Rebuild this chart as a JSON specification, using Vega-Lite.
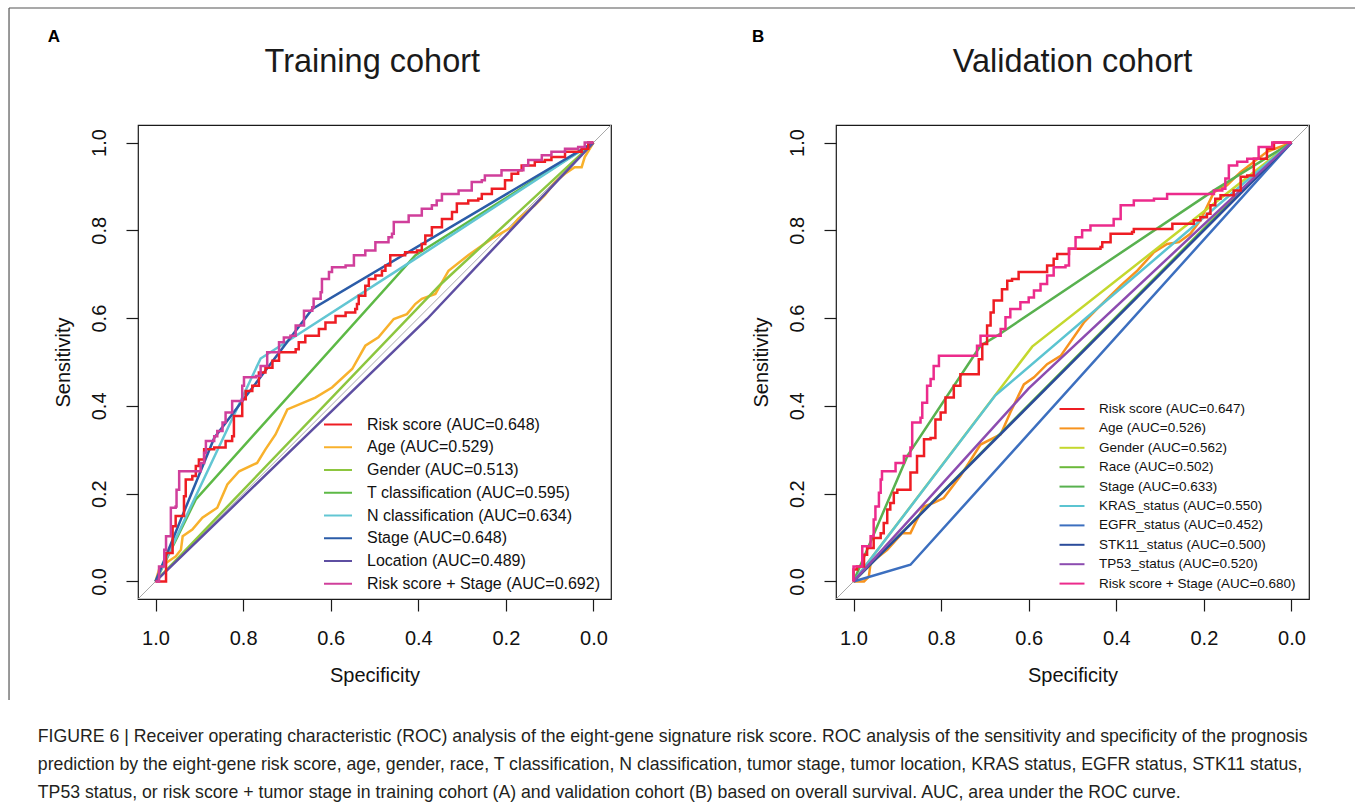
{
  "$schema": "https://vega.github.io/schema/vega-lite/v6.json",
  "background": "white",
  "padding": {"left": 7, "top": 6, "right": 0, "bottom": 5},
  "autosize": {"type": "pad"},
  "bounds": "flush",
  "spacing": 225,
  "title": {
    "text": [
      "FIGURE 6 | Receiver operating characteristic (ROC) analysis of the eight-gene signature risk score. ROC analysis of the sensitivity and specificity of the prognosis",
      "prediction by the eight-gene risk score, age, gender, race, T classification, N classification, tumor stage, tumor location, KRAS status, EGFR status, STK11 status,",
      "TP53 status, or risk score + tumor stage in training cohort (A) and validation cohort (B) based on overall survival. AUC, area under the ROC curve."
    ],
    "orient": "bottom", "anchor": "start", "frame": "bounds",
    "font": "Liberation Sans", "fontSize": 17.7, "fontWeight": "normal", "color": "#231F20",
    "lineHeight": 28, "offset": 27, "dx": 30
  },
  "resolve": {"scale": {"color": "independent", "x": "independent", "y": "independent"}, "legend": {"color": "independent"}},
  "config": {
    "font": "Liberation Sans",
    "view": {"stroke": "#1a1a1a", "strokeWidth": 1.2},
    "axis": {"grid": false, "domain": false, "tickColor": "#1a1a1a", "tickSize": 12, "tickWidth": 1.2,
      "labelFontSize": 20, "titleFontSize": 20, "labelColor": "#111", "titleColor": "#111",
      "titleFontWeight": "normal", "labelFont": "Liberation Sans", "titleFont": "Liberation Sans",
      "labelFlush": false, "labelOverlap": false},
    "axisX": {"labelPadding": 17, "titlePadding": 17},
    "axisY": {"labelAngle": -90, "labelPadding": 17, "titlePadding": 15.5},
    "legend": {"labelFont": "Liberation Sans", "labelColor": "#111"}
  },
  "datasets": {
    "a": [
      {"curve":"Age (AUC=0.529)","n":0,"spec":1,"sens":0},
      {"curve":"Age (AUC=0.529)","n":1,"spec":0.992,"sens":0.027},
      {"curve":"Age (AUC=0.529)","n":2,"spec":0.976,"sens":0.042},
      {"curve":"Age (AUC=0.529)","n":3,"spec":0.954,"sens":0.057},
      {"curve":"Age (AUC=0.529)","n":4,"spec":0.942,"sens":0.072},
      {"curve":"Age (AUC=0.529)","n":5,"spec":0.938,"sens":0.103},
      {"curve":"Age (AUC=0.529)","n":6,"spec":0.916,"sens":0.118},
      {"curve":"Age (AUC=0.529)","n":7,"spec":0.893,"sens":0.145},
      {"curve":"Age (AUC=0.529)","n":8,"spec":0.859,"sens":0.168},
      {"curve":"Age (AUC=0.529)","n":9,"spec":0.836,"sens":0.221},
      {"curve":"Age (AUC=0.529)","n":10,"spec":0.809,"sens":0.251},
      {"curve":"Age (AUC=0.529)","n":11,"spec":0.768,"sens":0.270},
      {"curve":"Age (AUC=0.529)","n":12,"spec":0.749,"sens":0.301},
      {"curve":"Age (AUC=0.529)","n":13,"spec":0.726,"sens":0.335},
      {"curve":"Age (AUC=0.529)","n":14,"spec":0.699,"sens":0.392},
      {"curve":"Age (AUC=0.529)","n":15,"spec":0.635,"sens":0.419},
      {"curve":"Age (AUC=0.529)","n":16,"spec":0.597,"sens":0.442},
      {"curve":"Age (AUC=0.529)","n":17,"spec":0.551,"sens":0.484},
      {"curve":"Age (AUC=0.529)","n":18,"spec":0.521,"sens":0.537},
      {"curve":"Age (AUC=0.529)","n":19,"spec":0.491,"sens":0.556},
      {"curve":"Age (AUC=0.529)","n":20,"spec":0.456,"sens":0.598},
      {"curve":"Age (AUC=0.529)","n":21,"spec":0.426,"sens":0.609},
      {"curve":"Age (AUC=0.529)","n":22,"spec":0.407,"sens":0.632},
      {"curve":"Age (AUC=0.529)","n":23,"spec":0.392,"sens":0.644},
      {"curve":"Age (AUC=0.529)","n":24,"spec":0.361,"sens":0.655},
      {"curve":"Age (AUC=0.529)","n":25,"spec":0.331,"sens":0.708},
      {"curve":"Age (AUC=0.529)","n":26,"spec":0.286,"sens":0.743},
      {"curve":"Age (AUC=0.529)","n":27,"spec":0.232,"sens":0.781},
      {"curve":"Age (AUC=0.529)","n":28,"spec":0.187,"sens":0.807},
      {"curve":"Age (AUC=0.529)","n":29,"spec":0.172,"sens":0.826},
      {"curve":"Age (AUC=0.529)","n":30,"spec":0.134,"sens":0.857},
      {"curve":"Age (AUC=0.529)","n":31,"spec":0.111,"sens":0.880},
      {"curve":"Age (AUC=0.529)","n":32,"spec":0.088,"sens":0.910},
      {"curve":"Age (AUC=0.529)","n":33,"spec":0.065,"sens":0.929},
      {"curve":"Age (AUC=0.529)","n":34,"spec":0.043,"sens":0.944},
      {"curve":"Age (AUC=0.529)","n":35,"spec":0.027,"sens":0.944},
      {"curve":"Age (AUC=0.529)","n":36,"spec":0.020,"sens":0.967},
      {"curve":"Age (AUC=0.529)","n":37,"spec":0,"sens":1},
      {"curve":"Gender (AUC=0.513)","n":0,"spec":1,"sens":0},
      {"curve":"Gender (AUC=0.513)","n":1,"spec":0.35,"sens":0.676},
      {"curve":"Gender (AUC=0.513)","n":2,"spec":0,"sens":1},
      {"curve":"T classification (AUC=0.595)","n":0,"spec":1,"sens":0},
      {"curve":"T classification (AUC=0.595)","n":1,"spec":0.908,"sens":0.187},
      {"curve":"T classification (AUC=0.595)","n":2,"spec":0.407,"sens":0.743},
      {"curve":"T classification (AUC=0.595)","n":3,"spec":0,"sens":1},
      {"curve":"N classification (AUC=0.634)","n":0,"spec":1,"sens":0},
      {"curve":"N classification (AUC=0.634)","n":1,"spec":0.760,"sens":0.508},
      {"curve":"N classification (AUC=0.634)","n":2,"spec":0.407,"sens":0.735},
      {"curve":"N classification (AUC=0.634)","n":3,"spec":0,"sens":1},
      {"curve":"Stage (AUC=0.648)","n":0,"spec":1,"sens":0},
      {"curve":"Stage (AUC=0.648)","n":1,"spec":0.866,"sens":0.327},
      {"curve":"Stage (AUC=0.648)","n":2,"spec":0.642,"sens":0.621},
      {"curve":"Stage (AUC=0.648)","n":3,"spec":0,"sens":1},
      {"curve":"Location (AUC=0.489)","n":0,"spec":1,"sens":0},
      {"curve":"Location (AUC=0.489)","n":1,"spec":0.38,"sens":0.598},
      {"curve":"Location (AUC=0.489)","n":2,"spec":0,"sens":1},
      {"curve":"Risk score (AUC=0.648)","n":0,"spec":1,"sens":0},
      {"curve":"Risk score (AUC=0.648)","n":1,"spec":0.976,"sens":0.065},
      {"curve":"Risk score (AUC=0.648)","n":2,"spec":0.961,"sens":0.126},
      {"curve":"Risk score (AUC=0.648)","n":3,"spec":0.954,"sens":0.149},
      {"curve":"Risk score (AUC=0.648)","n":4,"spec":0.938,"sens":0.149},
      {"curve":"Risk score (AUC=0.648)","n":5,"spec":0.935,"sens":0.194},
      {"curve":"Risk score (AUC=0.648)","n":6,"spec":0.931,"sens":0.232},
      {"curve":"Risk score (AUC=0.648)","n":7,"spec":0.916,"sens":0.240},
      {"curve":"Risk score (AUC=0.648)","n":8,"spec":0.908,"sens":0.263},
      {"curve":"Risk score (AUC=0.648)","n":9,"spec":0.901,"sens":0.278},
      {"curve":"Risk score (AUC=0.648)","n":10,"spec":0.889,"sens":0.301},
      {"curve":"Risk score (AUC=0.648)","n":11,"spec":0.866,"sens":0.305},
      {"curve":"Risk score (AUC=0.648)","n":12,"spec":0.840,"sens":0.320},
      {"curve":"Risk score (AUC=0.648)","n":13,"spec":0.825,"sens":0.331},
      {"curve":"Risk score (AUC=0.648)","n":14,"spec":0.821,"sens":0.377},
      {"curve":"Risk score (AUC=0.648)","n":15,"spec":0.802,"sens":0.415},
      {"curve":"Risk score (AUC=0.648)","n":16,"spec":0.794,"sens":0.434},
      {"curve":"Risk score (AUC=0.648)","n":17,"spec":0.779,"sens":0.446},
      {"curve":"Risk score (AUC=0.648)","n":18,"spec":0.764,"sens":0.476},
      {"curve":"Risk score (AUC=0.648)","n":19,"spec":0.749,"sens":0.487},
      {"curve":"Risk score (AUC=0.648)","n":20,"spec":0.733,"sens":0.503},
      {"curve":"Risk score (AUC=0.648)","n":21,"spec":0.718,"sens":0.522},
      {"curve":"Risk score (AUC=0.648)","n":22,"spec":0.684,"sens":0.522},
      {"curve":"Risk score (AUC=0.648)","n":23,"spec":0.680,"sens":0.529},
      {"curve":"Risk score (AUC=0.648)","n":24,"spec":0.673,"sens":0.545},
      {"curve":"Risk score (AUC=0.648)","n":25,"spec":0.658,"sens":0.560},
      {"curve":"Risk score (AUC=0.648)","n":26,"spec":0.627,"sens":0.575},
      {"curve":"Risk score (AUC=0.648)","n":27,"spec":0.612,"sens":0.590},
      {"curve":"Risk score (AUC=0.648)","n":28,"spec":0.589,"sens":0.605},
      {"curve":"Risk score (AUC=0.648)","n":29,"spec":0.566,"sens":0.613},
      {"curve":"Risk score (AUC=0.648)","n":30,"spec":0.544,"sens":0.621},
      {"curve":"Risk score (AUC=0.648)","n":31,"spec":0.540,"sens":0.632},
      {"curve":"Risk score (AUC=0.648)","n":32,"spec":0.536,"sens":0.651},
      {"curve":"Risk score (AUC=0.648)","n":33,"spec":0.521,"sens":0.674},
      {"curve":"Risk score (AUC=0.648)","n":34,"spec":0.513,"sens":0.689},
      {"curve":"Risk score (AUC=0.648)","n":35,"spec":0.498,"sens":0.697},
      {"curve":"Risk score (AUC=0.648)","n":36,"spec":0.483,"sens":0.708},
      {"curve":"Risk score (AUC=0.648)","n":37,"spec":0.475,"sens":0.720},
      {"curve":"Risk score (AUC=0.648)","n":38,"spec":0.464,"sens":0.743},
      {"curve":"Risk score (AUC=0.648)","n":39,"spec":0.430,"sens":0.750},
      {"curve":"Risk score (AUC=0.648)","n":40,"spec":0.403,"sens":0.754},
      {"curve":"Risk score (AUC=0.648)","n":41,"spec":0.392,"sens":0.769},
      {"curve":"Risk score (AUC=0.648)","n":42,"spec":0.384,"sens":0.788},
      {"curve":"Risk score (AUC=0.648)","n":43,"spec":0.369,"sens":0.807},
      {"curve":"Risk score (AUC=0.648)","n":44,"spec":0.346,"sens":0.826},
      {"curve":"Risk score (AUC=0.648)","n":45,"spec":0.323,"sens":0.842},
      {"curve":"Risk score (AUC=0.648)","n":46,"spec":0.312,"sens":0.861},
      {"curve":"Risk score (AUC=0.648)","n":47,"spec":0.293,"sens":0.861},
      {"curve":"Risk score (AUC=0.648)","n":48,"spec":0.286,"sens":0.868},
      {"curve":"Risk score (AUC=0.648)","n":49,"spec":0.263,"sens":0.872},
      {"curve":"Risk score (AUC=0.648)","n":50,"spec":0.255,"sens":0.883},
      {"curve":"Risk score (AUC=0.648)","n":51,"spec":0.232,"sens":0.895},
      {"curve":"Risk score (AUC=0.648)","n":52,"spec":0.217,"sens":0.895},
      {"curve":"Risk score (AUC=0.648)","n":53,"spec":0.202,"sens":0.914},
      {"curve":"Risk score (AUC=0.648)","n":54,"spec":0.187,"sens":0.929},
      {"curve":"Risk score (AUC=0.648)","n":55,"spec":0.172,"sens":0.937},
      {"curve":"Risk score (AUC=0.648)","n":56,"spec":0.164,"sens":0.948},
      {"curve":"Risk score (AUC=0.648)","n":57,"spec":0.134,"sens":0.956},
      {"curve":"Risk score (AUC=0.648)","n":58,"spec":0.111,"sens":0.960},
      {"curve":"Risk score (AUC=0.648)","n":59,"spec":0.096,"sens":0.967},
      {"curve":"Risk score (AUC=0.648)","n":60,"spec":0.065,"sens":0.979},
      {"curve":"Risk score (AUC=0.648)","n":61,"spec":0.039,"sens":0.979},
      {"curve":"Risk score (AUC=0.648)","n":62,"spec":0.027,"sens":0.986},
      {"curve":"Risk score (AUC=0.648)","n":63,"spec":0.012,"sens":1},
      {"curve":"Risk score (AUC=0.648)","n":64,"spec":0,"sens":1},
      {"curve":"Risk score + Stage (AUC=0.692)","n":0,"spec":1,"sens":0},
      {"curve":"Risk score + Stage (AUC=0.692)","n":1,"spec":0.992,"sens":0.034},
      {"curve":"Risk score + Stage (AUC=0.692)","n":2,"spec":0.980,"sens":0.072},
      {"curve":"Risk score + Stage (AUC=0.692)","n":3,"spec":0.976,"sens":0.103},
      {"curve":"Risk score + Stage (AUC=0.692)","n":4,"spec":0.965,"sens":0.141},
      {"curve":"Risk score + Stage (AUC=0.692)","n":5,"spec":0.965,"sens":0.168},
      {"curve":"Risk score + Stage (AUC=0.692)","n":6,"spec":0.954,"sens":0.171},
      {"curve":"Risk score + Stage (AUC=0.692)","n":7,"spec":0.952,"sens":0.209},
      {"curve":"Risk score + Stage (AUC=0.692)","n":8,"spec":0.946,"sens":0.251},
      {"curve":"Risk score + Stage (AUC=0.692)","n":9,"spec":0.901,"sens":0.251},
      {"curve":"Risk score + Stage (AUC=0.692)","n":10,"spec":0.897,"sens":0.270},
      {"curve":"Risk score + Stage (AUC=0.692)","n":11,"spec":0.889,"sens":0.293},
      {"curve":"Risk score + Stage (AUC=0.692)","n":12,"spec":0.885,"sens":0.320},
      {"curve":"Risk score + Stage (AUC=0.692)","n":13,"spec":0.866,"sens":0.331},
      {"curve":"Risk score + Stage (AUC=0.692)","n":14,"spec":0.859,"sens":0.343},
      {"curve":"Risk score + Stage (AUC=0.692)","n":15,"spec":0.847,"sens":0.362},
      {"curve":"Risk score + Stage (AUC=0.692)","n":16,"spec":0.840,"sens":0.385},
      {"curve":"Risk score + Stage (AUC=0.692)","n":17,"spec":0.825,"sens":0.411},
      {"curve":"Risk score + Stage (AUC=0.692)","n":18,"spec":0.817,"sens":0.411},
      {"curve":"Risk score + Stage (AUC=0.692)","n":19,"spec":0.802,"sens":0.446},
      {"curve":"Risk score + Stage (AUC=0.692)","n":20,"spec":0.798,"sens":0.465},
      {"curve":"Risk score + Stage (AUC=0.692)","n":21,"spec":0.771,"sens":0.468},
      {"curve":"Risk score + Stage (AUC=0.692)","n":22,"spec":0.760,"sens":0.491},
      {"curve":"Risk score + Stage (AUC=0.692)","n":23,"spec":0.745,"sens":0.522},
      {"curve":"Risk score + Stage (AUC=0.692)","n":24,"spec":0.718,"sens":0.545},
      {"curve":"Risk score + Stage (AUC=0.692)","n":25,"spec":0.707,"sens":0.556},
      {"curve":"Risk score + Stage (AUC=0.692)","n":26,"spec":0.692,"sens":0.560},
      {"curve":"Risk score + Stage (AUC=0.692)","n":27,"spec":0.680,"sens":0.583},
      {"curve":"Risk score + Stage (AUC=0.692)","n":28,"spec":0.661,"sens":0.617},
      {"curve":"Risk score + Stage (AUC=0.692)","n":29,"spec":0.642,"sens":0.625},
      {"curve":"Risk score + Stage (AUC=0.692)","n":30,"spec":0.639,"sens":0.644},
      {"curve":"Risk score + Stage (AUC=0.692)","n":31,"spec":0.623,"sens":0.659},
      {"curve":"Risk score + Stage (AUC=0.692)","n":32,"spec":0.620,"sens":0.689},
      {"curve":"Risk score + Stage (AUC=0.692)","n":33,"spec":0.604,"sens":0.705},
      {"curve":"Risk score + Stage (AUC=0.692)","n":34,"spec":0.597,"sens":0.716},
      {"curve":"Risk score + Stage (AUC=0.692)","n":35,"spec":0.566,"sens":0.720},
      {"curve":"Risk score + Stage (AUC=0.692)","n":36,"spec":0.547,"sens":0.743},
      {"curve":"Risk score + Stage (AUC=0.692)","n":37,"spec":0.521,"sens":0.754},
      {"curve":"Risk score + Stage (AUC=0.692)","n":38,"spec":0.498,"sens":0.773},
      {"curve":"Risk score + Stage (AUC=0.692)","n":39,"spec":0.468,"sens":0.784},
      {"curve":"Risk score + Stage (AUC=0.692)","n":40,"spec":0.460,"sens":0.792},
      {"curve":"Risk score + Stage (AUC=0.692)","n":41,"spec":0.456,"sens":0.819},
      {"curve":"Risk score + Stage (AUC=0.692)","n":42,"spec":0.422,"sens":0.834},
      {"curve":"Risk score + Stage (AUC=0.692)","n":43,"spec":0.392,"sens":0.849},
      {"curve":"Risk score + Stage (AUC=0.692)","n":44,"spec":0.369,"sens":0.857},
      {"curve":"Risk score + Stage (AUC=0.692)","n":45,"spec":0.358,"sens":0.868},
      {"curve":"Risk score + Stage (AUC=0.692)","n":46,"spec":0.346,"sens":0.883},
      {"curve":"Risk score + Stage (AUC=0.692)","n":47,"spec":0.308,"sens":0.891},
      {"curve":"Risk score + Stage (AUC=0.692)","n":48,"spec":0.278,"sens":0.910},
      {"curve":"Risk score + Stage (AUC=0.692)","n":49,"spec":0.255,"sens":0.914},
      {"curve":"Risk score + Stage (AUC=0.692)","n":50,"spec":0.248,"sens":0.925},
      {"curve":"Risk score + Stage (AUC=0.692)","n":51,"spec":0.210,"sens":0.937},
      {"curve":"Risk score + Stage (AUC=0.692)","n":52,"spec":0.179,"sens":0.937},
      {"curve":"Risk score + Stage (AUC=0.692)","n":53,"spec":0.160,"sens":0.948},
      {"curve":"Risk score + Stage (AUC=0.692)","n":54,"spec":0.149,"sens":0.960},
      {"curve":"Risk score + Stage (AUC=0.692)","n":55,"spec":0.118,"sens":0.971},
      {"curve":"Risk score + Stage (AUC=0.692)","n":56,"spec":0.096,"sens":0.979},
      {"curve":"Risk score + Stage (AUC=0.692)","n":57,"spec":0.065,"sens":0.986},
      {"curve":"Risk score + Stage (AUC=0.692)","n":58,"spec":0.035,"sens":0.990},
      {"curve":"Risk score + Stage (AUC=0.692)","n":59,"spec":0.020,"sens":1},
      {"curve":"Risk score + Stage (AUC=0.692)","n":60,"spec":0,"sens":1}
    ],
    "b": [
      {"curve":"Age (AUC=0.526)","n":0,"spec":1,"sens":0},
      {"curve":"Age (AUC=0.526)","n":1,"spec":0.976,"sens":0},
      {"curve":"Age (AUC=0.526)","n":2,"spec":0.965,"sens":0.011},
      {"curve":"Age (AUC=0.526)","n":3,"spec":0.961,"sens":0.042},
      {"curve":"Age (AUC=0.526)","n":4,"spec":0.923,"sens":0.072},
      {"curve":"Age (AUC=0.526)","n":5,"spec":0.889,"sens":0.110},
      {"curve":"Age (AUC=0.526)","n":6,"spec":0.870,"sens":0.110},
      {"curve":"Age (AUC=0.526)","n":7,"spec":0.855,"sens":0.141},
      {"curve":"Age (AUC=0.526)","n":8,"spec":0.839,"sens":0.171},
      {"curve":"Age (AUC=0.526)","n":9,"spec":0.817,"sens":0.179},
      {"curve":"Age (AUC=0.526)","n":10,"spec":0.794,"sens":0.190},
      {"curve":"Age (AUC=0.526)","n":11,"spec":0.756,"sens":0.240},
      {"curve":"Age (AUC=0.526)","n":12,"spec":0.710,"sens":0.312},
      {"curve":"Age (AUC=0.526)","n":13,"spec":0.664,"sens":0.335},
      {"curve":"Age (AUC=0.526)","n":14,"spec":0.642,"sens":0.385},
      {"curve":"Age (AUC=0.526)","n":15,"spec":0.611,"sens":0.449},
      {"curve":"Age (AUC=0.526)","n":16,"spec":0.588,"sens":0.465},
      {"curve":"Age (AUC=0.526)","n":17,"spec":0.558,"sens":0.495},
      {"curve":"Age (AUC=0.526)","n":18,"spec":0.527,"sens":0.514},
      {"curve":"Age (AUC=0.526)","n":19,"spec":0.474,"sens":0.590},
      {"curve":"Age (AUC=0.526)","n":20,"spec":0.444,"sens":0.621},
      {"curve":"Age (AUC=0.526)","n":21,"spec":0.390,"sens":0.674},
      {"curve":"Age (AUC=0.526)","n":22,"spec":0.352,"sens":0.708},
      {"curve":"Age (AUC=0.526)","n":23,"spec":0.314,"sens":0.750},
      {"curve":"Age (AUC=0.526)","n":24,"spec":0.284,"sens":0.769},
      {"curve":"Age (AUC=0.526)","n":25,"spec":0.257,"sens":0.773},
      {"curve":"Age (AUC=0.526)","n":26,"spec":0.231,"sens":0.792},
      {"curve":"Age (AUC=0.526)","n":27,"spec":0.208,"sens":0.823},
      {"curve":"Age (AUC=0.526)","n":28,"spec":0.177,"sens":0.887},
      {"curve":"Age (AUC=0.526)","n":29,"spec":0.147,"sens":0.903},
      {"curve":"Age (AUC=0.526)","n":30,"spec":0.116,"sens":0.933},
      {"curve":"Age (AUC=0.526)","n":31,"spec":0.086,"sens":0.956},
      {"curve":"Age (AUC=0.526)","n":32,"spec":0.056,"sens":0.979},
      {"curve":"Age (AUC=0.526)","n":33,"spec":0,"sens":1},
      {"curve":"Gender (AUC=0.562)","n":0,"spec":1,"sens":0},
      {"curve":"Gender (AUC=0.562)","n":1,"spec":0.592,"sens":0.535},
      {"curve":"Gender (AUC=0.562)","n":2,"spec":0,"sens":1},
      {"curve":"Race (AUC=0.502)","n":0,"spec":1,"sens":0},
      {"curve":"Race (AUC=0.502)","n":1,"spec":0.15,"sens":0.854},
      {"curve":"Race (AUC=0.502)","n":2,"spec":0,"sens":1},
      {"curve":"Stage (AUC=0.633)","n":0,"spec":1,"sens":0},
      {"curve":"Stage (AUC=0.633)","n":1,"spec":0.877,"sens":0.286},
      {"curve":"Stage (AUC=0.633)","n":2,"spec":0.710,"sens":0.537},
      {"curve":"Stage (AUC=0.633)","n":3,"spec":0.672,"sens":0.560},
      {"curve":"Stage (AUC=0.633)","n":4,"spec":0.177,"sens":0.891},
      {"curve":"Stage (AUC=0.633)","n":5,"spec":0,"sens":1},
      {"curve":"KRAS_status (AUC=0.550)","n":0,"spec":1,"sens":0},
      {"curve":"KRAS_status (AUC=0.550)","n":1,"spec":0.676,"sens":0.424},
      {"curve":"KRAS_status (AUC=0.550)","n":2,"spec":0,"sens":1},
      {"curve":"EGFR_status (AUC=0.452)","n":0,"spec":1,"sens":0},
      {"curve":"EGFR_status (AUC=0.452)","n":1,"spec":0.870,"sens":0.038},
      {"curve":"EGFR_status (AUC=0.452)","n":2,"spec":0,"sens":1},
      {"curve":"STK11_status (AUC=0.500)","n":0,"spec":1,"sens":0},
      {"curve":"STK11_status (AUC=0.500)","n":1,"spec":0,"sens":1},
      {"curve":"TP53_status (AUC=0.520)","n":0,"spec":1,"sens":0},
      {"curve":"TP53_status (AUC=0.520)","n":1,"spec":0.6,"sens":0.44},
      {"curve":"TP53_status (AUC=0.520)","n":2,"spec":0,"sens":1},
      {"curve":"Risk score (AUC=0.647)","n":0,"spec":1,"sens":0},
      {"curve":"Risk score (AUC=0.647)","n":1,"spec":1,"sens":0.027},
      {"curve":"Risk score (AUC=0.647)","n":2,"spec":0.992,"sens":0.034},
      {"curve":"Risk score (AUC=0.647)","n":3,"spec":0.976,"sens":0.061},
      {"curve":"Risk score (AUC=0.647)","n":4,"spec":0.969,"sens":0.076},
      {"curve":"Risk score (AUC=0.647)","n":5,"spec":0.954,"sens":0.099},
      {"curve":"Risk score (AUC=0.647)","n":6,"spec":0.938,"sens":0.110},
      {"curve":"Risk score (AUC=0.647)","n":7,"spec":0.931,"sens":0.133},
      {"curve":"Risk score (AUC=0.647)","n":8,"spec":0.923,"sens":0.164},
      {"curve":"Risk score (AUC=0.647)","n":9,"spec":0.916,"sens":0.179},
      {"curve":"Risk score (AUC=0.647)","n":10,"spec":0.908,"sens":0.202},
      {"curve":"Risk score (AUC=0.647)","n":11,"spec":0.900,"sens":0.209},
      {"curve":"Risk score (AUC=0.647)","n":12,"spec":0.874,"sens":0.209},
      {"curve":"Risk score (AUC=0.647)","n":13,"spec":0.870,"sens":0.248},
      {"curve":"Risk score (AUC=0.647)","n":14,"spec":0.855,"sens":0.286},
      {"curve":"Risk score (AUC=0.647)","n":15,"spec":0.839,"sens":0.324},
      {"curve":"Risk score (AUC=0.647)","n":16,"spec":0.824,"sens":0.327},
      {"curve":"Risk score (AUC=0.647)","n":17,"spec":0.813,"sens":0.369},
      {"curve":"Risk score (AUC=0.647)","n":18,"spec":0.801,"sens":0.385},
      {"curve":"Risk score (AUC=0.647)","n":19,"spec":0.790,"sens":0.419},
      {"curve":"Risk score (AUC=0.647)","n":20,"spec":0.771,"sens":0.446},
      {"curve":"Risk score (AUC=0.647)","n":21,"spec":0.756,"sens":0.472},
      {"curve":"Risk score (AUC=0.647)","n":22,"spec":0.718,"sens":0.472},
      {"curve":"Risk score (AUC=0.647)","n":23,"spec":0.714,"sens":0.506},
      {"curve":"Risk score (AUC=0.647)","n":24,"spec":0.706,"sens":0.541},
      {"curve":"Risk score (AUC=0.647)","n":25,"spec":0.695,"sens":0.583},
      {"curve":"Risk score (AUC=0.647)","n":26,"spec":0.687,"sens":0.613},
      {"curve":"Risk score (AUC=0.647)","n":27,"spec":0.680,"sens":0.640},
      {"curve":"Risk score (AUC=0.647)","n":28,"spec":0.661,"sens":0.666},
      {"curve":"Risk score (AUC=0.647)","n":29,"spec":0.649,"sens":0.685},
      {"curve":"Risk score (AUC=0.647)","n":30,"spec":0.638,"sens":0.689},
      {"curve":"Risk score (AUC=0.647)","n":31,"spec":0.623,"sens":0.705},
      {"curve":"Risk score (AUC=0.647)","n":32,"spec":0.573,"sens":0.705},
      {"curve":"Risk score (AUC=0.647)","n":33,"spec":0.558,"sens":0.720},
      {"curve":"Risk score (AUC=0.647)","n":34,"spec":0.543,"sens":0.735},
      {"curve":"Risk score (AUC=0.647)","n":35,"spec":0.535,"sens":0.746},
      {"curve":"Risk score (AUC=0.647)","n":36,"spec":0.512,"sens":0.746},
      {"curve":"Risk score (AUC=0.647)","n":37,"spec":0.508,"sens":0.758},
      {"curve":"Risk score (AUC=0.647)","n":38,"spec":0.436,"sens":0.762},
      {"curve":"Risk score (AUC=0.647)","n":39,"spec":0.432,"sens":0.773},
      {"curve":"Risk score (AUC=0.647)","n":40,"spec":0.413,"sens":0.777},
      {"curve":"Risk score (AUC=0.647)","n":41,"spec":0.413,"sens":0.792},
      {"curve":"Risk score (AUC=0.647)","n":42,"spec":0.364,"sens":0.796},
      {"curve":"Risk score (AUC=0.647)","n":43,"spec":0.360,"sens":0.803},
      {"curve":"Risk score (AUC=0.647)","n":44,"spec":0.276,"sens":0.803},
      {"curve":"Risk score (AUC=0.647)","n":45,"spec":0.272,"sens":0.815},
      {"curve":"Risk score (AUC=0.647)","n":46,"spec":0.223,"sens":0.823},
      {"curve":"Risk score (AUC=0.647)","n":47,"spec":0.208,"sens":0.830},
      {"curve":"Risk score (AUC=0.647)","n":48,"spec":0.193,"sens":0.838},
      {"curve":"Risk score (AUC=0.647)","n":49,"spec":0.185,"sens":0.857},
      {"curve":"Risk score (AUC=0.647)","n":50,"spec":0.174,"sens":0.872},
      {"curve":"Risk score (AUC=0.647)","n":51,"spec":0.162,"sens":0.880},
      {"curve":"Risk score (AUC=0.647)","n":52,"spec":0.132,"sens":0.891},
      {"curve":"Risk score (AUC=0.647)","n":53,"spec":0.116,"sens":0.922},
      {"curve":"Risk score (AUC=0.647)","n":54,"spec":0.101,"sens":0.925},
      {"curve":"Risk score (AUC=0.647)","n":55,"spec":0.086,"sens":0.963},
      {"curve":"Risk score (AUC=0.647)","n":56,"spec":0.056,"sens":0.986},
      {"curve":"Risk score (AUC=0.647)","n":57,"spec":0.040,"sens":1},
      {"curve":"Risk score (AUC=0.647)","n":58,"spec":0,"sens":1},
      {"curve":"Risk score + Stage (AUC=0.680)","n":0,"spec":1,"sens":0},
      {"curve":"Risk score + Stage (AUC=0.680)","n":1,"spec":1,"sens":0.034},
      {"curve":"Risk score + Stage (AUC=0.680)","n":2,"spec":0.984,"sens":0.034},
      {"curve":"Risk score + Stage (AUC=0.680)","n":3,"spec":0.980,"sens":0.080},
      {"curve":"Risk score + Stage (AUC=0.680)","n":4,"spec":0.965,"sens":0.080},
      {"curve":"Risk score + Stage (AUC=0.680)","n":5,"spec":0.961,"sens":0.103},
      {"curve":"Risk score + Stage (AUC=0.680)","n":6,"spec":0.954,"sens":0.141},
      {"curve":"Risk score + Stage (AUC=0.680)","n":7,"spec":0.950,"sens":0.171},
      {"curve":"Risk score + Stage (AUC=0.680)","n":8,"spec":0.942,"sens":0.202},
      {"curve":"Risk score + Stage (AUC=0.680)","n":9,"spec":0.938,"sens":0.232},
      {"curve":"Risk score + Stage (AUC=0.680)","n":10,"spec":0.935,"sens":0.251},
      {"curve":"Risk score + Stage (AUC=0.680)","n":11,"spec":0.904,"sens":0.251},
      {"curve":"Risk score + Stage (AUC=0.680)","n":12,"spec":0.904,"sens":0.270},
      {"curve":"Risk score + Stage (AUC=0.680)","n":13,"spec":0.885,"sens":0.286},
      {"curve":"Risk score + Stage (AUC=0.680)","n":14,"spec":0.870,"sens":0.305},
      {"curve":"Risk score + Stage (AUC=0.680)","n":15,"spec":0.866,"sens":0.362},
      {"curve":"Risk score + Stage (AUC=0.680)","n":16,"spec":0.847,"sens":0.373},
      {"curve":"Risk score + Stage (AUC=0.680)","n":17,"spec":0.843,"sens":0.407},
      {"curve":"Risk score + Stage (AUC=0.680)","n":18,"spec":0.832,"sens":0.446},
      {"curve":"Risk score + Stage (AUC=0.680)","n":19,"spec":0.824,"sens":0.461},
      {"curve":"Risk score + Stage (AUC=0.680)","n":20,"spec":0.817,"sens":0.491},
      {"curve":"Risk score + Stage (AUC=0.680)","n":21,"spec":0.805,"sens":0.514},
      {"curve":"Risk score + Stage (AUC=0.680)","n":22,"spec":0.729,"sens":0.514},
      {"curve":"Risk score + Stage (AUC=0.680)","n":23,"spec":0.718,"sens":0.537},
      {"curve":"Risk score + Stage (AUC=0.680)","n":24,"spec":0.710,"sens":0.560},
      {"curve":"Risk score + Stage (AUC=0.680)","n":25,"spec":0.672,"sens":0.560},
      {"curve":"Risk score + Stage (AUC=0.680)","n":26,"spec":0.664,"sens":0.575},
      {"curve":"Risk score + Stage (AUC=0.680)","n":27,"spec":0.653,"sens":0.602},
      {"curve":"Risk score + Stage (AUC=0.680)","n":28,"spec":0.642,"sens":0.621},
      {"curve":"Risk score + Stage (AUC=0.680)","n":29,"spec":0.619,"sens":0.636},
      {"curve":"Risk score + Stage (AUC=0.680)","n":30,"spec":0.600,"sens":0.647},
      {"curve":"Risk score + Stage (AUC=0.680)","n":31,"spec":0.588,"sens":0.663},
      {"curve":"Risk score + Stage (AUC=0.680)","n":32,"spec":0.573,"sens":0.678},
      {"curve":"Risk score + Stage (AUC=0.680)","n":33,"spec":0.558,"sens":0.697},
      {"curve":"Risk score + Stage (AUC=0.680)","n":34,"spec":0.543,"sens":0.716},
      {"curve":"Risk score + Stage (AUC=0.680)","n":35,"spec":0.516,"sens":0.720},
      {"curve":"Risk score + Stage (AUC=0.680)","n":36,"spec":0.508,"sens":0.758},
      {"curve":"Risk score + Stage (AUC=0.680)","n":37,"spec":0.493,"sens":0.784},
      {"curve":"Risk score + Stage (AUC=0.680)","n":38,"spec":0.478,"sens":0.800},
      {"curve":"Risk score + Stage (AUC=0.680)","n":39,"spec":0.459,"sens":0.811},
      {"curve":"Risk score + Stage (AUC=0.680)","n":40,"spec":0.428,"sens":0.811},
      {"curve":"Risk score + Stage (AUC=0.680)","n":41,"spec":0.406,"sens":0.826},
      {"curve":"Risk score + Stage (AUC=0.680)","n":42,"spec":0.390,"sens":0.857},
      {"curve":"Risk score + Stage (AUC=0.680)","n":43,"spec":0.360,"sens":0.868},
      {"curve":"Risk score + Stage (AUC=0.680)","n":44,"spec":0.314,"sens":0.872},
      {"curve":"Risk score + Stage (AUC=0.680)","n":45,"spec":0.284,"sens":0.883},
      {"curve":"Risk score + Stage (AUC=0.680)","n":46,"spec":0.185,"sens":0.883},
      {"curve":"Risk score + Stage (AUC=0.680)","n":47,"spec":0.177,"sens":0.891},
      {"curve":"Risk score + Stage (AUC=0.680)","n":48,"spec":0.158,"sens":0.895},
      {"curve":"Risk score + Stage (AUC=0.680)","n":49,"spec":0.151,"sens":0.918},
      {"curve":"Risk score + Stage (AUC=0.680)","n":50,"spec":0.143,"sens":0.948},
      {"curve":"Risk score + Stage (AUC=0.680)","n":51,"spec":0.124,"sens":0.956},
      {"curve":"Risk score + Stage (AUC=0.680)","n":52,"spec":0.101,"sens":0.963},
      {"curve":"Risk score + Stage (AUC=0.680)","n":53,"spec":0.082,"sens":0.963},
      {"curve":"Risk score + Stage (AUC=0.680)","n":54,"spec":0.075,"sens":0.990},
      {"curve":"Risk score + Stage (AUC=0.680)","n":55,"spec":0.044,"sens":1},
      {"curve":"Risk score + Stage (AUC=0.680)","n":56,"spec":0,"sens":1}
    ]
  },
  "hconcat": [
    {
      "width": 473, "height": 474,
      "data": {"name": "a"},
      "encoding": {
        "x": {"field": "spec", "type": "quantitative", "scale": {"domain": [-0.04, 1.04], "reverse": true, "nice": false, "zero": false},
          "axis": {"values": [0, 0.2, 0.4, 0.6, 0.8, 1], "format": ".1f", "title": "Specificity"}},
        "y": {"field": "sens", "type": "quantitative", "scale": {"domain": [-0.04, 1.04], "nice": false, "zero": false},
          "axis": {"values": [0, 0.2, 0.4, 0.6, 0.8, 1], "format": ".1f", "title": "Sensitivity"}}
      },
      "layer": [
        {"transform": [{"filter": "datum.n == 0 && datum.curve == 'Gender (AUC=0.513)'"}],
         "mark": {"type": "rule", "color": "#a8a8a8", "strokeWidth": 1},
         "encoding": {"x": {"datum": 1.04}, "x2": {"datum": -0.04}, "y": {"datum": -0.04}, "y2": {"datum": 1.04}}},
        {"transform": [{"filter": "datum.n == 0 && datum.curve == 'Gender (AUC=0.513)'"}],
         "mark": {"type": "rule", "color": "#555555", "strokeWidth": 1.2, "clip": false},
         "encoding": {"x": {"datum": 1.3345}, "x2": {"datum": -1.752}, "y": {"datum": 1.3066}, "y2": {"datum": 1.3066}}},
        {"transform": [{"filter": "datum.n == 0 && datum.curve == 'Gender (AUC=0.513)'"}],
         "mark": {"type": "rule", "color": "#555555", "strokeWidth": 1.2, "clip": false},
         "encoding": {"x": {"datum": 1.3345}, "x2": {"datum": 1.3345}, "y": {"datum": 1.3066}, "y2": {"datum": -0.270}}},
        {"transform": [{"filter": {"not": {"field": "curve", "oneOf": ["Risk score (AUC=0.648)", "Risk score + Stage (AUC=0.692)"]}}}],
         "mark": {"type": "line", "strokeWidth": 2.5},
         "encoding": {
           "color": {"field": "curve", "type": "nominal",
             "scale": {"domain": ["Risk score (AUC=0.648)", "Age (AUC=0.529)", "Gender (AUC=0.513)", "T classification (AUC=0.595)", "N classification (AUC=0.634)", "Stage (AUC=0.648)", "Location (AUC=0.489)", "Risk score + Stage (AUC=0.692)"],
               "range": ["#ee1d23", "#f8b12c", "#8dc63f", "#5db946", "#62c6d3", "#2b5ca8", "#5e4fa2", "#d03f9b"]},
             "legend": {"title": null, "orient": "none", "legendX": 192, "legendY": 291.5, "symbolType": "M-2,0H2", "symbolSize": 196, "symbolStrokeWidth": 2, "labelFontSize": 16, "labelOffset": 21, "rowPadding": 6.75, "padding": 0, "labelLimit": 500}},
           "order": {"field": "n", "type": "quantitative"}}},
        {"transform": [{"filter": {"field": "curve", "oneOf": ["Risk score (AUC=0.648)", "Risk score + Stage (AUC=0.692)"]}}],
         "mark": {"type": "line", "strokeWidth": 2.5, "interpolate": "step-after"},
         "encoding": {
           "color": {"field": "curve", "type": "nominal",
             "scale": {"domain": ["Risk score (AUC=0.648)", "Age (AUC=0.529)", "Gender (AUC=0.513)", "T classification (AUC=0.595)", "N classification (AUC=0.634)", "Stage (AUC=0.648)", "Location (AUC=0.489)", "Risk score + Stage (AUC=0.692)"],
               "range": ["#ee1d23", "#f8b12c", "#8dc63f", "#5db946", "#62c6d3", "#2b5ca8", "#5e4fa2", "#d03f9b"]},
             "legend": {"title": null, "orient": "none", "legendX": 192, "legendY": 291.5, "symbolType": "M-2,0H2", "symbolSize": 196, "symbolStrokeWidth": 2, "labelFontSize": 16, "labelOffset": 21, "rowPadding": 6.75, "padding": 0, "labelLimit": 500}},
           "order": {"field": "n", "type": "quantitative"}}},
        {"transform": [{"filter": "datum.n == 0 && datum.curve == 'Gender (AUC=0.513)'"}],
         "mark": {"type": "text", "fontSize": 32.5, "font": "Liberation Sans", "fontWeight": "normal", "color": "#1a1a1a", "align": "center", "baseline": "alphabetic", "clip": false},
         "encoding": {"x": {"datum": 0.505}, "y": {"datum": 1.1608}, "text": {"value": "Training cohort"}}},
        {"transform": [{"filter": "datum.n == 0 && datum.curve == 'Gender (AUC=0.513)'"}],
         "mark": {"type": "text", "fontSize": 17, "font": "Liberation Sans", "fontWeight": "bold", "color": "#000", "align": "center", "baseline": "middle", "clip": false},
         "encoding": {"x": {"datum": 1.232}, "y": {"datum": 1.2405}, "text": {"value": "A"}}}
      ]
    },
    {
      "width": 473, "height": 474,
      "data": {"name": "b"},
      "encoding": {
        "x": {"field": "spec", "type": "quantitative", "scale": {"domain": [-0.04, 1.04], "reverse": true, "nice": false, "zero": false},
          "axis": {"values": [0, 0.2, 0.4, 0.6, 0.8, 1], "format": ".1f", "title": "Specificity"}},
        "y": {"field": "sens", "type": "quantitative", "scale": {"domain": [-0.04, 1.04], "nice": false, "zero": false},
          "axis": {"values": [0, 0.2, 0.4, 0.6, 0.8, 1], "format": ".1f", "title": "Sensitivity"}}
      },
      "layer": [
        {"transform": [{"filter": "datum.n == 0 && datum.curve == 'Gender (AUC=0.562)'"}],
         "mark": {"type": "rule", "color": "#a8a8a8", "strokeWidth": 1},
         "encoding": {"x": {"datum": 1.04}, "x2": {"datum": -0.04}, "y": {"datum": -0.04}, "y2": {"datum": 1.04}}},
        {"transform": [{"filter": {"not": {"field": "curve", "oneOf": ["Risk score (AUC=0.647)", "Risk score + Stage (AUC=0.680)"]}}}],
         "mark": {"type": "line", "strokeWidth": 2.5},
         "encoding": {
           "color": {"field": "curve", "type": "nominal",
             "scale": {"domain": ["Risk score (AUC=0.647)", "Age (AUC=0.526)", "Gender (AUC=0.562)", "Race (AUC=0.502)", "Stage (AUC=0.633)", "KRAS_status (AUC=0.550)", "EGFR_status (AUC=0.452)", "STK11_status (AUC=0.500)", "TP53_status (AUC=0.520)", "Risk score + Stage (AUC=0.680)"],
               "range": ["#ee1d23", "#f7931e", "#c4d82e", "#6bb93a", "#58b14f", "#5bc4d1", "#3c6fbf", "#2b4c9b", "#8c4cb0", "#ec2b8c"]},
             "legend": {"title": null, "orient": "none", "legendX": 228.5, "legendY": 276.5, "symbolType": "M-2,0H2", "symbolSize": 156, "symbolStrokeWidth": 2, "labelFontSize": 13.5, "labelOffset": 19.5, "rowPadding": 5.4, "padding": 0, "labelLimit": 500}},
           "order": {"field": "n", "type": "quantitative"}}},
        {"transform": [{"filter": {"field": "curve", "oneOf": ["Risk score (AUC=0.647)", "Risk score + Stage (AUC=0.680)"]}}],
         "mark": {"type": "line", "strokeWidth": 2.5, "interpolate": "step-after"},
         "encoding": {
           "color": {"field": "curve", "type": "nominal",
             "scale": {"domain": ["Risk score (AUC=0.647)", "Age (AUC=0.526)", "Gender (AUC=0.562)", "Race (AUC=0.502)", "Stage (AUC=0.633)", "KRAS_status (AUC=0.550)", "EGFR_status (AUC=0.452)", "STK11_status (AUC=0.500)", "TP53_status (AUC=0.520)", "Risk score + Stage (AUC=0.680)"],
               "range": ["#ee1d23", "#f7931e", "#c4d82e", "#6bb93a", "#58b14f", "#5bc4d1", "#3c6fbf", "#2b4c9b", "#8c4cb0", "#ec2b8c"]},
             "legend": {"title": null, "orient": "none", "legendX": 228.5, "legendY": 276.5, "symbolType": "M-2,0H2", "symbolSize": 156, "symbolStrokeWidth": 2, "labelFontSize": 13.5, "labelOffset": 19.5, "rowPadding": 5.4, "padding": 0, "labelLimit": 500}},
           "order": {"field": "n", "type": "quantitative"}}},
        {"transform": [{"filter": "datum.n == 0 && datum.curve == 'Gender (AUC=0.562)'"}],
         "mark": {"type": "text", "fontSize": 32.5, "font": "Liberation Sans", "fontWeight": "normal", "color": "#1a1a1a", "align": "center", "baseline": "alphabetic", "clip": false},
         "encoding": {"x": {"datum": 0.5}, "y": {"datum": 1.1608}, "text": {"value": "Validation cohort"}}},
        {"transform": [{"filter": "datum.n == 0 && datum.curve == 'Gender (AUC=0.562)'"}],
         "mark": {"type": "text", "fontSize": 17, "font": "Liberation Sans", "fontWeight": "bold", "color": "#000", "align": "center", "baseline": "middle", "clip": false},
         "encoding": {"x": {"datum": 1.218}, "y": {"datum": 1.2405}, "text": {"value": "B"}}}
      ]
    }
  ]
}
